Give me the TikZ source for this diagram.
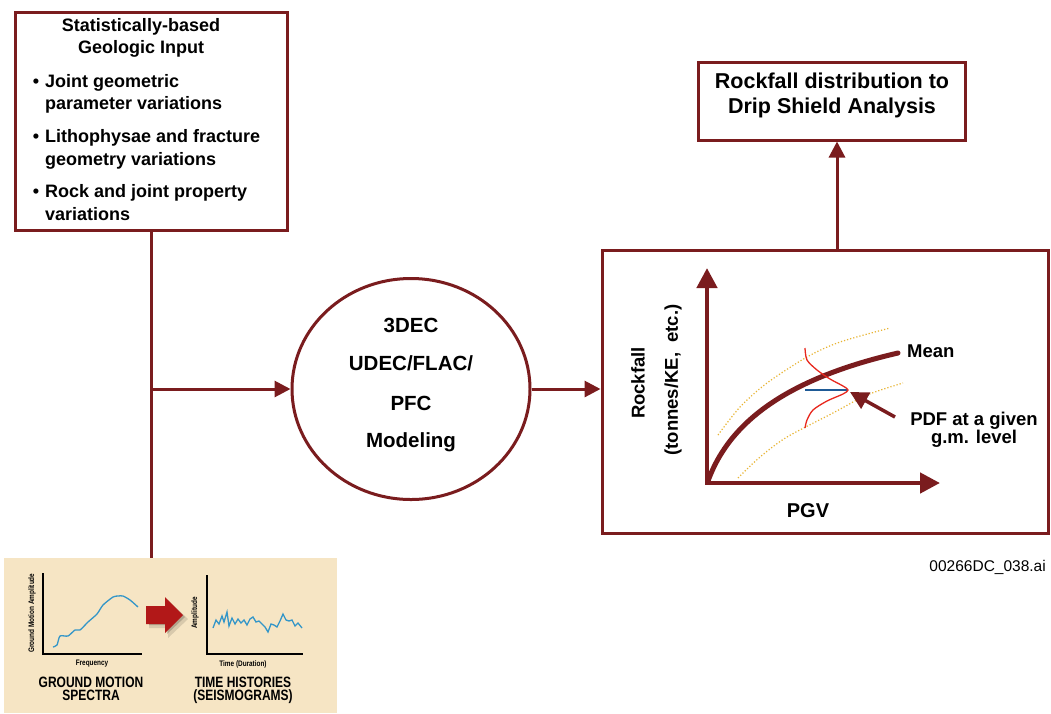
\documentclass[tikz,border=0pt]{standalone}
\usepackage{fontspec}
\setmainfont{Liberation Sans}
\newfontfamily\condfont{Liberation Sans}[FakeStretch=0.8]
\usetikzlibrary{arrows.meta,shapes.geometric}
\definecolor{maroon}{RGB}{122,28,30}
\definecolor{beige}{RGB}{246,229,196}
\definecolor{seisblue}{RGB}{52,150,200}
\definecolor{dotyellow}{RGB}{232,180,50}
\definecolor{pdfred}{RGB}{232,40,30}
\definecolor{lineblue}{RGB}{30,90,150}
\definecolor{blockred}{RGB}{178,24,24}
\begin{document}
\begin{tikzpicture}[x=1pt,y=-1pt,
  box/.style={draw=maroon,line width=3pt,fill=white,inner sep=0pt},
  conn/.style={draw=maroon,line width=3pt},
  tip/.style={-{Triangle[length=16pt,width=16pt]}},
  axisline/.style={draw=maroon,line width=4.5pt,{Triangle[length=20pt,width=20pt]}-{Triangle[length=20pt,width=20pt]}},
  meanc/.style={draw=maroon,line width=5pt,line cap=round},
  dotc/.style={draw=dotyellow,line width=1.2pt,dotted},
  boxtxt/.style={font=\fontsize{18}{22}\selectfont\bfseries,inner sep=0pt,anchor=base west},
  ctxt/.style={font=\fontsize{18}{22}\selectfont\bfseries,inner sep=0pt,anchor=base},
  modtxt/.style={font=\fontsize{20.5}{24}\selectfont\bfseries,inner sep=0pt,anchor=base},
  droptxt/.style={font=\fontsize{21.5}{25}\selectfont\bfseries,inner sep=0pt,anchor=base},
  gtxt/.style={font=\fontsize{18.5}{22}\selectfont\bfseries,inner sep=0pt},
  tiny/.style={font=\condfont\fontsize{8}{8}\selectfont\bfseries,inner sep=0pt},
  ptxt/.style={font=\condfont\fontsize{15}{13}\selectfont\bfseries,inner sep=0pt,anchor=base}
]
\useasboundingbox (0,0) rectangle (1051,713);

% ---- main boxes ----
\node[box,minimum width=272pt,minimum height=218pt] (geo) at (151,121) {};
\node[fill=beige,minimum width=333pt,minimum height=155pt,inner sep=0pt,anchor=north west] (panel) at (4,558) {};
\node[ellipse,draw=maroon,line width=3pt,fill=white,minimum width=238pt,minimum height=221pt,inner sep=0pt] (model) at (411,389) {};
\node[box,minimum width=446pt,minimum height=283pt] (result) at (825,391.5) {};
\node[box,minimum width=267pt,minimum height=78pt] (drip) at (831.5,101) {};
\coordinate (upx) at (837,0);

% ---- connectors ----
\draw[conn] (geo.south) -- (geo.south |- panel.north);
\draw[conn,tip] (geo.south |- model.west) -- (model.west);
\draw[conn,tip] (model.east) -- (model.east -| result.west);
\draw[conn,tip] (result.north -| upx) -- (drip.south -| upx);

% ---- geologic input text ----
\node[ctxt] (g1) at (141,31) {Statistically-based};
\node[ctxt] (g2) at (141,53) {Geologic Input};
\node[boxtxt,anchor=base] (b1) at (36,87) {•};
\node[boxtxt] (g3) at (45,87) {Joint geometric};
\node[boxtxt] (g4) at (45,109) {parameter variations};
\node[boxtxt,anchor=base] (b2) at (36,142) {•};
\node[boxtxt] (g5) at (45,142) {Lithophysae and fracture};
\node[boxtxt] (g6) at (45,165) {geometry variations};
\node[boxtxt,anchor=base] (b3) at (36,197) {•};
\node[boxtxt] (g7) at (45,197) {Rock and joint property};
\node[boxtxt] (g8) at (45,220) {variations};

% ---- model text ----
\node[modtxt] (m1) at (411,332) {3DEC};
\node[modtxt] (m2) at (411,370) {UDEC/FLAC/};
\node[modtxt] (m3) at (411,410) {PFC};
\node[modtxt] (m4) at (411,447) {Modeling};

% ---- drip text ----
\node[droptxt] (d1) at (832,88) {Rockfall distribution to};
\node[droptxt] (d2) at (832,113) {Drip Shield Analysis};

% ---- graph ----
\coordinate (O) at (707,483);
\coordinate (ytip) at (707,268);
\coordinate (xtip) at (940,483);
\draw[dotc] plot[smooth] coordinates {(718,435) (740,407) (767,383) (807,357) (840,342) (890,328)};
\draw[dotc] plot[smooth] coordinates {(738,478) (760,457) (787,437) (833,413) (867,395) (903,383)};
\draw[meanc] (708,481) .. controls (730,420) and (790,378) .. (898,353);
\draw[axisline] (ytip) -- (O) -- (xtip);
\draw[lineblue,line width=1.3pt] (805,390) -- (847,390);
\draw[pdfred,line width=1.3pt] plot[smooth] coordinates {(805,348) (807,360) (817,370) (830,379) (843,386) (848,390) (843,394) (827,401) (813,410) (807,420) (805,428)};
\coordinate (pdfp) at (850,392);
\node[gtxt,anchor=base west] (mean) at (907,357) {Mean};
\node[gtxt,align=center,anchor=north,font=\fontsize{18.5}{18}\selectfont\bfseries] (pdf) at (974,412) {PDF at a given\\g.m. level};
\draw[maroon,line width=3.5pt,-{Triangle[length=18pt,width=18pt]}] (895,417) -- (pdfp);
\node[gtxt,font=\fontsize{20}{22}\selectfont\bfseries,anchor=base] (pgv) at (808,517) {PGV};
\node[gtxt,rotate=90] (rf) at (638,383) {Rockfall};
\node[gtxt,rotate=90] (tk) at (673,380) {(tonnes/KE,\ \ etc.)};

% ---- file label ----
\node[font=\fontsize{15.5}{16}\selectfont,inner sep=0pt,anchor=base east] (fname) at (1046,571) {00266DC\_038.ai};

% ---- panel contents ----
\draw[black,line width=1.6pt] (43,573) -- (43,654) -- (142,654);
\draw[seisblue,line width=1.3pt] plot[smooth,tension=0.4] coordinates {(53,647) (57,645) (60,636) (68,636) (75,630) (80,630) (88,622) (97,614) (103,605) (113,597) (118,596) (123,596) (130,600) (138,607)};
\node[tiny,rotate=90] (gma) at (32,613) {Ground Motion Amplitude};
\node[tiny] (freq) at (92,664) {Frequency};
\node[ptxt] (gm1) at (91,687) {GROUND MOTION};
\node[ptxt] (gm2) at (91,700) {SPECTRA};

\fill[black,opacity=0.12] (149,610) -- (168,610) -- (168,600) -- (188,619) -- (168,638) -- (168,628) -- (149,628) -- cycle;
\fill[black,opacity=0.18] (149,609) -- (167,609) -- (167,600) -- (185,617) -- (167,634) -- (167,625) -- (149,625) -- cycle;
\fill[blockred] (146,606) -- (165,606) -- (165,597) -- (183,615) -- (165,633) -- (165,624) -- (146,624) -- cycle;

\draw[black,line width=1.6pt] (207,575) -- (207,654) -- (303,654);
\draw[seisblue,line width=1.3pt] (213,628) -- (216,620) -- (219,624) -- (222,616) -- (224,622) -- (227,612) -- (229,626) -- (232,618) -- (235,624) -- (238,619) -- (241,623) -- (244,620) -- (247,625) -- (250,619) -- (253,617) -- (256,622) -- (259,621) -- (262,624) -- (265,627) -- (268,632) -- (271,624) -- (274,625) -- (277,627) -- (280,621) -- (283,614) -- (286,620) -- (289,621) -- (292,620) -- (295,626) -- (298,623) -- (302,628);
\node[tiny,rotate=90] (amp) at (195,613) {Amplitude};
\node[tiny] (time) at (243,664) {Time (Duration)};
\node[ptxt] (th1) at (243,687) {TIME HISTORIES};
\node[ptxt] (th2) at (243,700) {(SEISMOGRAMS)};
\end{tikzpicture}
\end{document}
